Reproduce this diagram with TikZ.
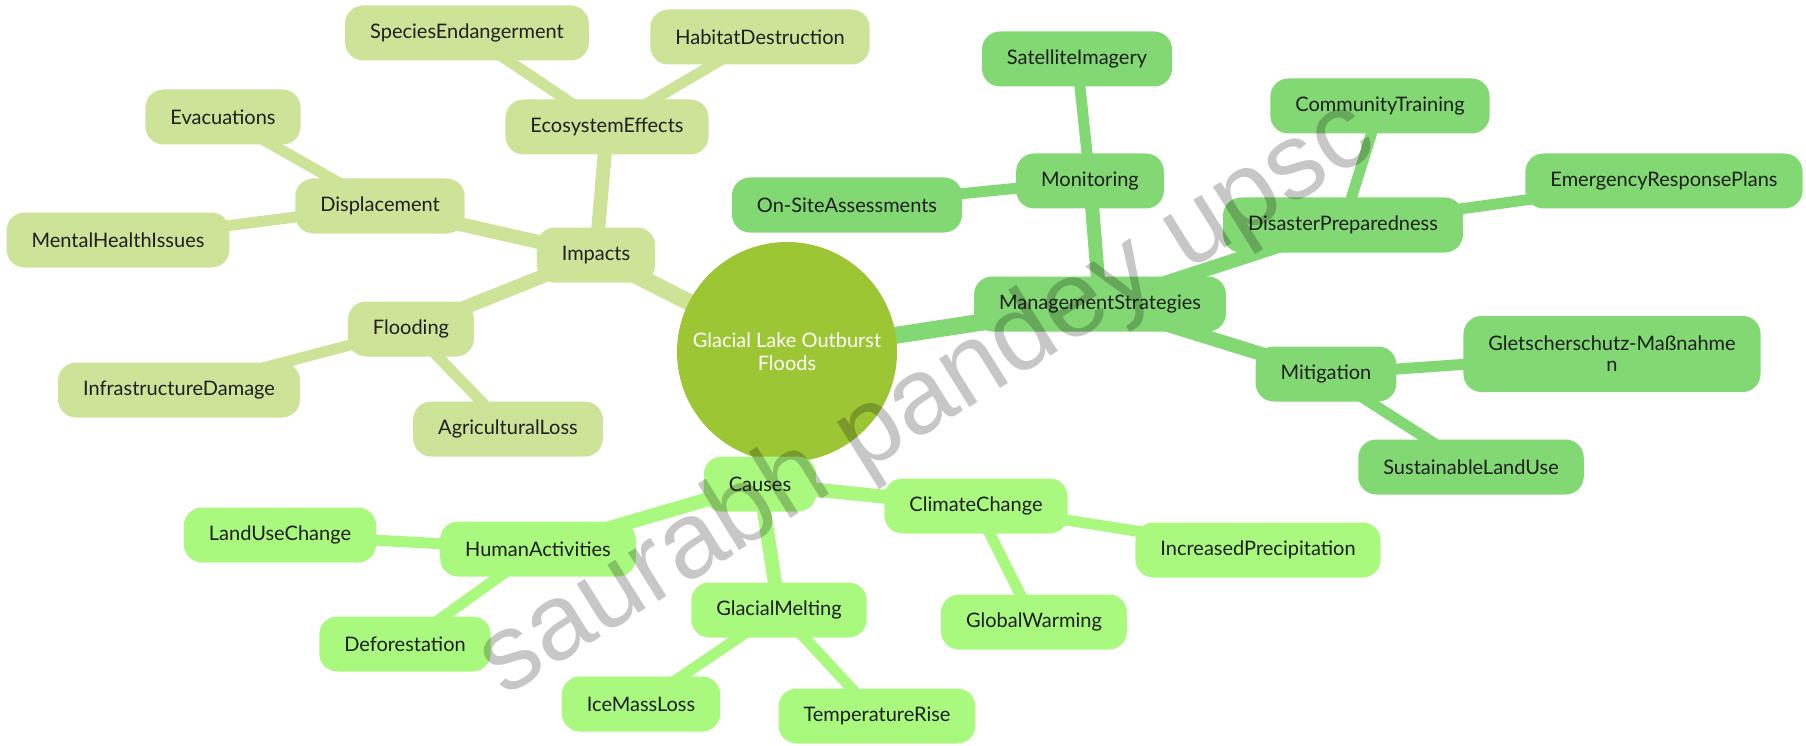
\documentclass[tikz,border=0pt]{standalone}
\usepackage{fontspec}
\setmainfont{Lato}
\newfontfamily\wmfont{Liberation Sans}
\usetikzlibrary{backgrounds}

\definecolor{centcol}{HTML}{9CC634}
\definecolor{impcol}{HTML}{CDE498}
\definecolor{mgtcol}{HTML}{82D873}
\definecolor{caucol}{HTML}{AAF97F}
\definecolor{txtcol}{HTML}{1E1E1E}

\begin{document}
\begin{tikzpicture}[x=1pt,y=-1pt,
    leaf/.style={rounded corners=18pt, minimum height=55pt, inner xsep=25pt, inner ysep=0pt,
      text=txtcol, font=\fontsize{20}{24}\selectfont},
    impnode/.style={leaf, fill=impcol},
    mgtnode/.style={leaf, fill=mgtcol},
    caunode/.style={leaf, fill=caucol},
    lvla/.style={line width=17pt},
    lvlb/.style={line width=14pt},
    lvlc/.style={line width=11pt}]
  \useasboundingbox (0,0) rectangle (1806,746);

  % Root
  \node[circle, fill=centcol, minimum size=220pt, inner sep=0pt, align=center, text=white,
        font=\fontsize{20}{23}\selectfont] (root) at (787,352) {Glacial Lake Outburst\\Floods};

  % Impacts
  \node[impnode] (impacts) at (596,255) {Impacts};
  \node[impnode] (eco) at (607,127) {EcosystemEffects};
  \node[impnode] (species) at (467,33) {SpeciesEndangerment};
  \node[impnode] (habitat) at (760,37) {HabitatDestruction};
  \node[impnode] (displ) at (380,206) {Displacement};
  \node[impnode] (evac) at (223,117) {Evacuations};
  \node[impnode] (mental) at (118,240) {MentalHealthIssues};
  \node[impnode] (flood) at (411,329) {Flooding};
  \node[impnode] (infra) at (179,390) {InfrastructureDamage};
  \node[impnode] (agri) at (508,429) {AgriculturalLoss};

  % Management
  \node[mgtnode] (mgt) at (1100,304) {ManagementStrategies};
  \node[mgtnode] (monit) at (1090,181) {Monitoring};
  \node[mgtnode] (sat) at (1077,59) {SatelliteImagery};
  \node[mgtnode] (onsite) at (847,205) {On-SiteAssessments};
  \node[mgtnode] (disprep) at (1343,225) {DisasterPreparedness};
  \node[mgtnode] (commtr) at (1380,106) {CommunityTraining};
  \node[mgtnode] (erp) at (1664,181) {EmergencyResponsePlans};
  \node[mgtnode] (mitig) at (1326,374) {Mitigation};
  \node[mgtnode, minimum height=76pt, align=center, font=\fontsize{20}{21}\selectfont]
        (glet) at (1612,354) {Gletscherschutz-Maßnahme\\n};
  \node[mgtnode] (sust) at (1471,467) {SustainableLandUse};

  % Causes
  \node[caunode] (causes) at (760,484) {Causes};
  \node[caunode] (climate) at (976,506) {ClimateChange};
  \node[caunode] (precip) at (1258,550) {IncreasedPrecipitation};
  \node[caunode] (warming) at (1034,622) {GlobalWarming};
  \node[caunode] (glacmelt) at (779,610) {GlacialMelting};
  \node[caunode] (icemass) at (641,704) {IceMassLoss};
  \node[caunode] (temprise) at (877,716) {TemperatureRise};
  \node[caunode] (human) at (538,549) {HumanActivities};
  \node[caunode] (landuse) at (280,535) {LandUseChange};
  \node[caunode] (defor) at (405,644) {Deforestation};

  % Branches
  \begin{scope}[on background layer]
    \draw[impcol, lvla] (root.center) -- (impacts.center);
    \draw[impcol, lvlb] (impacts.center) -- (eco.center);
    \draw[impcol, lvlb] (impacts.center) -- (displ.center);
    \draw[impcol, lvlb] (impacts.center) -- (flood.center);
    \draw[impcol, lvlc] (eco.center) -- (species.center);
    \draw[impcol, lvlc] (eco.center) -- (habitat.center);
    \draw[impcol, lvlc] (displ.center) -- (evac.center);
    \draw[impcol, lvlc] (displ.center) -- (mental.center);
    \draw[impcol, lvlc] (flood.center) -- (infra.center);
    \draw[impcol, lvlc] (flood.center) -- (agri.center);

    \draw[mgtcol, lvla] (root.center) -- (mgt.center);
    \draw[mgtcol, lvlb] (mgt.center) -- (monit.center);
    \draw[mgtcol, lvlb] (mgt.center) -- (disprep.center);
    \draw[mgtcol, lvlb] (mgt.center) -- (mitig.center);
    \draw[mgtcol, lvlc] (monit.center) -- (sat.center);
    \draw[mgtcol, lvlc] (monit.center) -- (onsite.center);
    \draw[mgtcol, lvlc] (disprep.center) -- (commtr.center);
    \draw[mgtcol, lvlc] (disprep.center) -- (erp.center);
    \draw[mgtcol, lvlc] (mitig.center) -- (glet.center);
    \draw[mgtcol, lvlc] (mitig.center) -- (sust.center);

    \draw[caucol, lvla] (root.center) -- (causes.center);
    \draw[caucol, lvlb] (causes.center) -- (climate.center);
    \draw[caucol, lvlb] (causes.center) -- (glacmelt.center);
    \draw[caucol, lvlb] (causes.center) -- (human.center);
    \draw[caucol, lvlc] (climate.center) -- (precip.center);
    \draw[caucol, lvlc] (climate.center) -- (warming.center);
    \draw[caucol, lvlc] (glacmelt.center) -- (icemass.center);
    \draw[caucol, lvlc] (glacmelt.center) -- (temprise.center);
    \draw[caucol, lvlc] (human.center) -- (landuse.center);
    \draw[caucol, lvlc] (human.center) -- (defor.center);
  \end{scope}

  % Watermark
  \node[rotate=32, text=black, opacity=0.22, font=\wmfont\fontsize{108}{108}\selectfont]
        (mark) at (928,400) {saurabh pandey upsc};
\end{tikzpicture}
\end{document}
